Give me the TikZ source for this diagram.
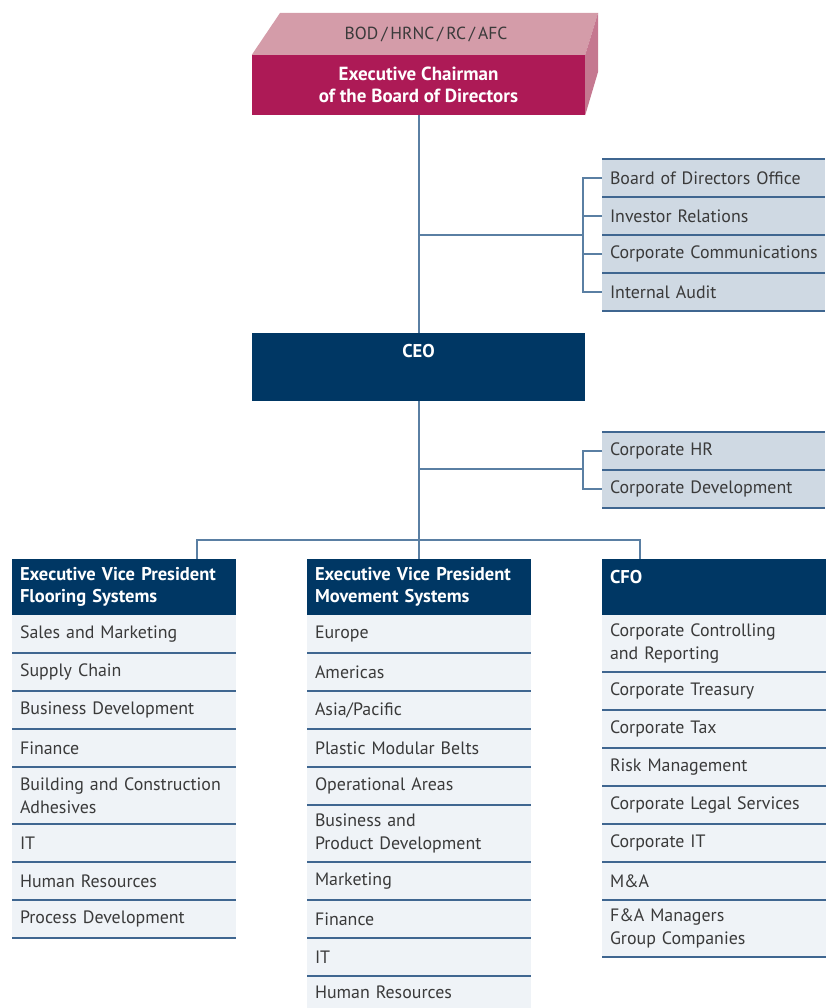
\documentclass[tikz,border=0pt]{standalone}
\usepackage{fontspec}
\setmainfont{PT Sans}
\usetikzlibrary{positioning}

\definecolor{navy}{HTML}{003764}
\definecolor{chairred}{HTML}{AD1A56}
\definecolor{chairtop}{HTML}{D49CA9}
\definecolor{chairside}{HTML}{C57890}
\definecolor{staffblue}{HTML}{CFD9E3}
\definecolor{rowfill}{HTML}{EFF3F7}
\definecolor{linkblue}{HTML}{5A7FA3}
\definecolor{sepblue}{HTML}{3F6690}
\definecolor{txtgray}{HTML}{3A3A3A}

\newcommand\rowfont{\fontsize{17.9}{22.5}\selectfont
  \hyphenpenalty=10000 \hbadness=10000 \hfuzz=20pt\relax}

\tikzset{
  row/.style={fill=rowfill, text=txtgray, minimum width=224, minimum height=38,
    text width=208, inner xsep=8, inner ysep=0, outer sep=0, align=left,
    font=\rowfont},
  rowtwo/.style={row, minimum height=57},
  staff/.style={row, fill=staffblue, minimum width=223, text width=207},
  head/.style={fill=navy, text=white, minimum width=224, minimum height=56,
    text width=208, inner xsep=8, inner ysep=0, outer sep=0, align=left,
    font=\fontsize{18.5}{22.5}\selectfont\bfseries},
  link/.style={draw=linkblue, line width=1.3},
  sep/.style={draw=sepblue, line width=1.3},
}

\begin{document}
\begin{tikzpicture}[x=1pt, y=-1pt]
\useasboundingbox (0,0) rectangle (827,1008);

% chairman block
\node[fill=chairred, text=white, minimum width=333, minimum height=60, inner sep=0,
  align=center, font=\fontsize{19}{22}\selectfont\bfseries] (chair) at (418.5,85)
  {Executive Chairman\\of the Board of Directors};
\fill[chairtop] (chair.north west) -- (280,13) -- (598,13) -- (chair.north east) -- cycle;
\fill[chairside] (chair.north east) -- (598,13) -- (598,72) -- (chair.south east) -- cycle;
\node[text=txtgray, font=\fontsize{17.5}{20}\selectfont] (bod) at (426,34) {BOD\,/\,HRNC\,/\,RC\,/\,AFC};

% staff functions under the chairman
\node[staff, anchor=north west] (bdo) at (602,159) {Board of Directors Office};
\node[staff, below=0pt of bdo] (ir) {Investor Relations};
\node[staff, below=0pt of ir] (cc) {Corporate~Communications};
\node[staff, below=0pt of cc] (ia) {Internal Audit};
\draw[sep] (bdo.north west) -- (bdo.north east);
\foreach \n in {bdo,ir,cc,ia}
  \draw[sep] (\n.south west) -- (\n.south east);

% CEO
\node[fill=navy, text=white, minimum width=333, inner xsep=0, inner ysep=12,
  text height=12, text depth=32, font=\fontsize{18.5}{20}\selectfont\bfseries,
  anchor=north] (ceo) at (418.5,333) {CEO};

\node[staff, anchor=north west] (hr) at (602,432) {Corporate HR};
\node[staff, below=0pt of hr] (cd) {Corporate Development};
\draw[sep] (hr.north west) -- (hr.north east);
\foreach \n in {hr,cd}
  \draw[sep] (\n.south west) -- (\n.south east);

% executive vice presidents and CFO
\node[head, anchor=north west] (evpf) at (12,559) {Executive Vice President\\Flooring Systems};
\node[head, anchor=north west] (evpm) at (307,559) {Executive Vice President\\Movement Systems};
\node[head, anchor=north west, text height=24, text depth=32, minimum height=0] (cfo) at (602,559) {CFO};

% flooring systems
\node[row, below=0pt of evpf] (f1) {Sales and Marketing};
\node[row, below=0pt of f1] (f2) {Supply Chain};
\node[row, below=0pt of f2] (f3) {Business Development};
\node[row, below=0pt of f3] (f4) {Finance};
\node[rowtwo, below=0pt of f4] (f5) {Building and Construction\\Adhesives};
\node[row, below=0pt of f5] (f6) {IT};
\node[row, below=0pt of f6] (f7) {Human Resources};
\node[row, below=0pt of f7] (f8) {Process Development};

% movement systems
\node[row, below=0pt of evpm] (m1) {Europe};
\node[row, below=0pt of m1] (m2) {Americas};
\node[row, below=0pt of m2] (m3) {Asia/Pacific};
\node[row, below=0pt of m3] (m4) {Plastic Modular Belts};
\node[row, below=0pt of m4] (m5) {Operational Areas};
\node[rowtwo, below=0pt of m5] (m6) {Business and\\Product Development};
\node[row, below=0pt of m6] (m7) {Marketing};
\node[row, below=0pt of m7] (m8) {Finance};
\node[row, below=0pt of m8] (m9) {IT};
\node[row, below=0pt of m9, minimum height=32] (m10) {Human Resources};

% finance
\node[rowtwo, below=0pt of cfo] (c1) {Corporate Controlling\\and Reporting};
\node[row, below=0pt of c1] (c2) {Corporate Treasury};
\node[row, below=0pt of c2] (c3) {Corporate Tax};
\node[row, below=0pt of c3] (c4) {Risk Management};
\node[row, below=0pt of c4] (c5) {Corporate Legal Services};
\node[row, below=0pt of c5] (c6) {Corporate IT};
\node[row, below=0pt of c6] (c7) {M\&A};
\node[rowtwo, below=0pt of c7] (c8) {F\&A Managers\\Group Companies};

\foreach \n in {f1,f2,f3,f4,f5,f6,f7,f8,m1,m2,m3,m4,m5,m6,m7,m8,m9,c1,c2,c3,c4,c5,c6,c7,c8}
  \draw[sep] (\n.south west) -- (\n.south east);

% connectors
\coordinate (j1) at (419,235);
\coordinate (k1) at (583,235);
\coordinate (j2) at (419,469);
\coordinate (k2) at (583,469);
\coordinate (t1) at (197,540);
\coordinate (t2) at (640,540);
\draw[link] (chair.south -| j1) -- (ceo.north -| j1);
\draw[link] (j1) -- (k1);
\draw[link] (bdo.west) -| (k1) |- (ia.west);
\draw[link] (ir.west) -- (ir.west -| k1);
\draw[link] (cc.west) -- (cc.west -| k1);
\draw[link] (ceo.south -| j2) -- (evpm.north -| j2);
\draw[link] (j2) -- (k2);
\draw[link] (hr.west) -| (k2) |- (cd.west);
\draw[link] (evpf.north -| t1) -- (t1) -- (t2) -- (cfo.north -| t2);
\end{tikzpicture}
\end{document}
